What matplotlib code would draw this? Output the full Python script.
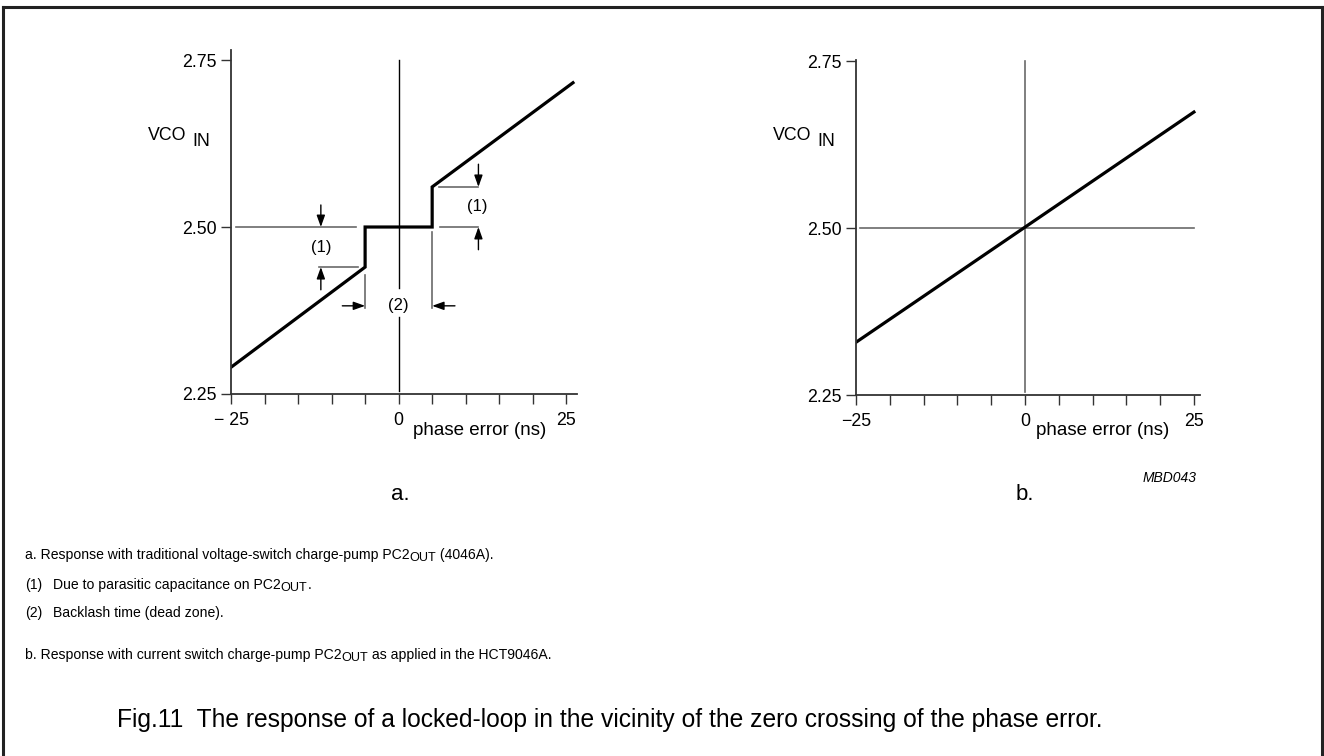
import matplotlib
matplotlib.use("Agg")
import matplotlib.pyplot as plt
from matplotlib.lines import Line2D

plt.rcParams["font.family"] = ["Liberation Sans", "DejaVu Sans"]

W, H = 1324, 756

# curve a: voltage-switch charge pump (dead zone + parasitic steps)
phase_a = [-25, -5, -5, 5, 5, 26]
vco_a = [2.29, 2.44, 2.50, 2.50, 2.56, 2.716]
# curve b: current-switch charge pump
phase_b = [-25, 25]
vco_b = [2.329, 2.674]

x_ticks = [-25, -20, -15, -10, -5, 0, 5, 10, 15, 20, 25]
y_ticks = [2.25, 2.50, 2.75]
y_labels = ["2.25", "2.50", "2.75"]

GREY = "#6a6a6a"


def fpos(x, y):
    return x / W, 1 - y / H


def setup(ax, xmax, ymax, minus_label):
    ax.set_xlim(-25, xmax)
    ax.set_ylim(2.25, ymax)
    for s in ("top", "right"):
        ax.spines[s].set_visible(False)
    for s in ("left", "bottom"):
        ax.spines[s].set_color("#333333")
        ax.spines[s].set_linewidth(1.3)
    ax.spines["left"].set_bounds(2.25, ymax)
    ax.set_xticks(x_ticks)
    ax.set_xticklabels([minus_label if t == -25 else (str(t) if t in (0, 25) else "")
                        for t in x_ticks], fontsize=12.8)
    ax.set_yticks(y_ticks)
    ax.set_yticklabels(y_labels, fontsize=12.8)
    ax.tick_params(axis="x", direction="out", length=7, width=1, color="#333333", pad=6)
    ax.tick_params(axis="y", direction="out", length=7, width=1, color="#333333", pad=3)
    ax.patch.set_alpha(0)


fig = plt.figure(figsize=(W / 100, H / 100), dpi=100)
renderer = fig.canvas.get_renderer()


def runs(x, y, parts, size):
    """Write text pieces one after another; parts = (text, drop_px, scale)."""
    for txt, drop, scale in parts:
        t = fig.text(*fpos(x, y + drop), txt, fontsize=size * scale, va="center", ha="left")
        x = t.get_window_extent(renderer).x1


# ---- panel a ----
ax1 = fig.add_axes([231 / W, (H - 394) / H, (577 - 231) / W, (394 - 50) / H])
setup(ax1, 26.6, 2.765, "\u2212 25")
ax1.plot([0, 0], [2.255, 2.365], color="black", lw=1)
ax1.plot([0, 0], [2.408, 2.75], color="black", lw=1)
ax1.plot([-24.3, -6.3], [2.5, 2.5], color=GREY, lw=1.2)
ax1.plot([6.1, 11.9], [2.5, 2.5], color=GREY, lw=1.2)
ax1.plot([-11.9, -6.0], [2.44, 2.44], color=GREY, lw=1.2)
ax1.plot([6.0, 11.9], [2.56, 2.56], color=GREY, lw=1.2)
ax1.plot([-5, -5], [2.428, 2.379], color=GREY, lw=1.2)
ax1.plot([5, 5], [2.493, 2.379], color=GREY, lw=1.2)
ax1.plot(phase_a, vco_a, color="black", lw=2.3, solid_joinstyle="miter")

arr = dict(arrowstyle="-|>,head_length=0.7,head_width=0.25", color="black", lw=1,
           shrinkA=0, shrinkB=0)
ax1.annotate("", xy=(-11.6, 2.5), xytext=(-11.6, 2.533), arrowprops=arr)
ax1.annotate("", xy=(-11.6, 2.44), xytext=(-11.6, 2.406), arrowprops=arr)
ax1.annotate("", xy=(11.9, 2.56), xytext=(11.9, 2.594), arrowprops=arr)
ax1.annotate("", xy=(11.9, 2.5), xytext=(11.9, 2.466), arrowprops=arr)
ax1.annotate("", xy=(-5, 2.382), xytext=(-8.4, 2.382), arrowprops=arr)
ax1.annotate("", xy=(5, 2.382), xytext=(8.4, 2.382), arrowprops=arr)
ax1.text(-11.6, 2.47, "(1)", ha="center", va="center", fontsize=12)
ax1.text(11.7, 2.53, "(1)", ha="center", va="center", fontsize=12)
ax1.text(0, 2.383, "(2)", ha="center", va="center", fontsize=12)

# ---- panel b ----
ax2 = fig.add_axes([856 / W, (H - 395) / H, (1200 - 856) / W, (395 - 60) / H])
setup(ax2, 25.9, 2.752, "\u221225")
ax2.plot([0, 0], [2.255, 2.75], color=GREY, lw=1.2)
ax2.plot([-24.4, 25], [2.5, 2.5], color=GREY, lw=1.2)
ax2.plot(phase_b, vco_b, color="black", lw=2.3)

# axis titles
for vx, ix, px in ((148, 192, 480), (773, 817, 1103)):
    fig.text(*fpos(vx, 136), "VCO", fontsize=12.8, va="center", ha="left")
    fig.text(*fpos(ix, 142), "IN", fontsize=12.8, va="center", ha="left")
    fig.text(*fpos(px, 430), "phase error (ns)", fontsize=13.5, va="center", ha="center")

fig.text(*fpos(400, 494), "a.", fontsize=16, ha="center", va="center")
fig.text(*fpos(1025, 494), "b.", fontsize=16, ha="center", va="center")
fig.text(*fpos(1197, 478), "MBD043", fontsize=10, style="italic", ha="right", va="center")

# notes
NS = 10.1
SUB = ("OUT", 3, 0.9)
runs(25, 555, [("a. Response with traditional voltage-switch charge-pump PC2", 0, 1),
               SUB, (" (4046A).", 0, 1)], NS)
runs(25, 585, [("(1)", 0, 1)], NS)
runs(53, 585, [("Due to parasitic capacitance on PC2", 0, 1), SUB, (".", 0, 1)], NS)
runs(25, 613, [("(2)", 0, 1)], NS)
runs(53, 613, [("Backlash time (dead zone).", 0, 1)], NS)
runs(25, 655, [("b. Response with current switch charge-pump PC2", 0, 1), SUB,
               (" as applied in the HCT9046A.", 0, 1)], NS)
fig.text(*fpos(117, 720), "Fig.11  The response of a locked-loop in the vicinity of the "
         "zero crossing of the phase error.", fontsize=17.7, va="center")

# frame
fx0, fy0, fx1, fy1 = 2.5, 6.5, 1321.5, 760
for xs, ys in (((fx0, fx1), (fy0, fy0)), ((fx0, fx0), (fy0, fy1)), ((fx1, fx1), (fy0, fy1))):
    fig.add_artist(Line2D([x / W for x in xs], [1 - y / H for y in ys],
                          color="#222222", lw=2.2))

fig.savefig("out.png", dpi=100)
